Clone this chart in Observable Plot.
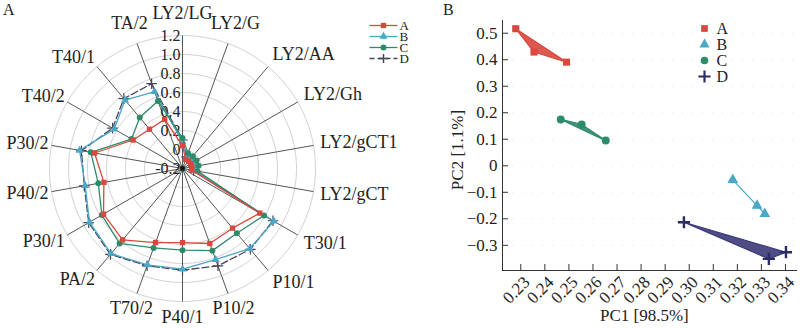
<!DOCTYPE html>
<html><head><meta charset="utf-8">
<script src="https://cdn.jsdelivr.net/npm/d3@7"></script>
<script src="https://cdn.jsdelivr.net/npm/@observablehq/plot@0.6"></script>
<style>
body{margin:0;background:#fff;}
#wrap{position:relative;width:800px;height:328px;overflow:hidden;font-family:"Liberation Serif","DejaVu Serif",serif;color:#222;}
#wrap svg{position:absolute;background:transparent;overflow:visible;}
#wrap svg text{font-family:"Liberation Serif","DejaVu Serif",serif;}
.t{position:absolute;white-space:nowrap;line-height:1;}
</style></head><body><div id="wrap"></div>
<script>
// ---------- data ----------
const axisNames = ["LY2/LG","LY2/G","LY2/AA","LY2/Gh","LY2/gCT1","LY2/gCT","T30/1","P10/1","P10/2","P40/1","T70/2","PA/2","P30/1","P40/2","P30/2","T40/2","T40/1","TA/2"];
const groups = ["A","B","C","D"];
const radarA = [0.04,-0.10,-0.10,-0.10,-0.10,-0.10,0.74,0.62,0.64,0.58,0.63,0.78,0.76,0.64,0.74,0.40,0.34,0.35];
const radarB = [0.08,-0.07,-0.07,-0.07,-0.08,-0.08,0.91,0.90,0.82,0.86,0.88,0.97,0.93,0.84,0.90,0.63,0.74,0.66];
const radarC = [0.12,-0.03,-0.03,-0.03,-0.03,-0.04,0.79,0.69,0.72,0.66,0.69,0.83,0.78,0.70,0.78,0.42,0.50,0.555];
const radarD = [0.10,-0.07,-0.07,-0.07,-0.08,-0.08,0.90,0.91,0.89,0.87,0.89,0.98,0.94,0.85,0.88,0.65,0.76,0.75];
const radarTicks = [-0.2,0,0.2,0.4,0.6,0.8,1.0,1.2];
const radarTickLabels = ["-0.2","0","0.2","0.4","0.6","0.8","1.0","1.2"];

const pc1A = [0.2279,0.2355,0.2490], pc2A = [0.517,0.429,0.391];
const pc1B = [0.3181,0.3282,0.3314], pc2B = [-0.053,-0.150,-0.181];
const pc1C = [0.2466,0.2553,0.2653], pc2C = [0.175,0.156,0.095];
const pc1D = [0.2978,0.3331,0.3402], pc2D = [-0.213,-0.351,-0.326];
const pcXTicks = [0.23,0.24,0.25,0.26,0.27,0.28,0.29,0.30,0.31,0.32,0.33,0.34];
const pcYTicks = [-0.3,-0.2,-0.1,0,0.1,0.2,0.3,0.4,0.5];

const colors = ["#d9473d","#4ba7c7","#2e8b68","#3b3a78"];
const radarLineColors = ["#d9473d","#4ba7c7","#2e8b68","#45455a"];
const FONT = "Liberation Serif";

const wrap = document.getElementById("wrap");
function place(el, left, top){ el.style.left = left+"px"; el.style.top = top+"px"; wrap.appendChild(el); }
function label(txt, left, top, size, extra){ const d=document.createElement("div"); d.className="t"; d.textContent=txt; d.style.fontSize=size+"px"; if(extra) Object.assign(d.style, extra); place(d,left,top); return d; }

// ---------- panel A: radar ----------
const R0 = -0.2, R1 = 1.2;
const rho = v => (v - R0) / (R1 - R0);
const ang = i => i * 2 * Math.PI / axisNames.length;
const radarVals = [radarA, radarB, radarC, radarD];
const rows = [];
groups.forEach((g, gi) => radarVals[gi].forEach((v, i) => rows.push({g, i, v})));
const rx = d => rho(d.v) * Math.sin(ang(d.i));
const ry = d => rho(d.v) * Math.cos(ang(d.i));
const ringRows = radarTicks.slice(1).flatMap(v => d3.range(0, 361, 2).map(a => ({v, a})));
const axRows = axisNames.map((name, i) => ({name, i, s: Math.sin(ang(i)), c: Math.cos(ang(i))}));
const U = 133; // px per unit radius
const midL = axRows.filter(d => Math.abs(d.s) < 0.5);
const rightL = axRows.filter(d => d.s >= 0.5);
const leftL = axRows.filter(d => d.s <= -0.5);
const sym = {A:"square", B:"triangle", C:"circle", D:"plus"};
const midR = d => (d.c > 0 ? 155 : 149) / U;

const radar = Plot.plot({
  width: 400, height: 328, margin: 0,
  x: {domain: [-1, 1], range: [182 - U, 182 + U], axis: null},
  y: {domain: [-1, 1], range: [168 + U, 168 - U], axis: null},
  style: {fontFamily: FONT, background: "transparent", color: "#222"},
  marks: [
    Plot.line(ringRows, {x: d => rho(d.v) * Math.sin(d.a * Math.PI / 180), y: d => rho(d.v) * Math.cos(d.a * Math.PI / 180), z: "v", stroke: "#d2d2d2", strokeWidth: 1}),
    Plot.link(axRows, {x1: 0, y1: 0, x2: "s", y2: "c", stroke: "#555", strokeWidth: 1}),
    Plot.text(midL, {x: d => d.s * midR(d), y: d => d.c * midR(d), text: "name", textAnchor: "middle", fontSize: 18, fontFamily: FONT}),
    Plot.text(rightL, {x: d => d.s * 140 / U, y: d => (d.c * 140 + d.c * 9) / U, text: "name", textAnchor: "start", fontSize: 18, fontFamily: FONT}),
    Plot.text(leftL, {x: d => d.s * 136 / U, y: d => (d.c * 136 + d.c * 9) / U, text: "name", textAnchor: "end", fontSize: 18, fontFamily: FONT}),
    Plot.text(radarTicks, {x: 0, y: d => rho(d), text: (d, i) => radarTickLabels[i], textAnchor: "end", dx: -2, fontSize: 16, fontFamily: FONT}),
    ...[3, 1, 2, 0].flatMap(gi => {
      const data = rows.filter(d => d.g === groups[gi]);
      const lineOpts = {x: rx, y: ry, curve: "linear-closed", stroke: radarLineColors[gi], strokeWidth: 1.3};
      if (gi === 3) lineOpts.strokeDasharray = "7,3";
      const dotOpts = {x: rx, y: ry, r: 3, symbol: sym[groups[gi]]};
      if (gi === 3) { dotOpts.stroke = radarLineColors[gi]; dotOpts.strokeWidth = 1.2; dotOpts.fill = "none"; dotOpts.r = 3.5; }
      else { dotOpts.fill = colors[gi]; dotOpts.stroke = "none"; }
      return [Plot.line(data, lineOpts), Plot.dot(data, dotOpts)];
    }),
    Plot.dot([R0], {x: 0, y: d => rho(d), r: 2.5, fill: "#111", symbol: "square"})
  ]
});
place(radar, 0, 0);

// legend A
const legA = Plot.plot({
  width: 56, height: 70, margin: 0,
  x: {domain: [0, 1], range: [4, 32], axis: null},
  y: {type: "point", domain: groups, range: [14, 58], axis: null},
  style: {fontFamily: FONT, background: "transparent", color: "#222"},
  marks: groups.flatMap((g, gi) => [
    Plot.link([g], {x1: 0, x2: 1, y1: d => d, y2: d => d, stroke: radarLineColors[gi], strokeWidth: 1.3, strokeDasharray: gi === 3 ? "5,3" : null}),
    Plot.dot([g], {x: 0.5, y: d => d, symbol: sym[g], r: 3, fill: gi === 3 ? "none" : colors[gi], stroke: gi === 3 ? radarLineColors[gi] : "none"}),
    Plot.text([g], {x: 1, y: d => d, text: d => d, textAnchor: "start", dx: 2, fontSize: 13, fontFamily: FONT})
  ])
});
place(legA, 365, 5);

// ---------- panel B: PCA ----------
const pcs = [[pc1A, pc2A], [pc1B, pc2B], [pc1C, pc2C], [pc1D, pc2D]];
const pts = [];
groups.forEach((g, gi) => pcs[gi][0].forEach((x, j) => pts.push({g, x, y: pcs[gi][1][j]})));
const X0 = 0.2224, X1 = 0.345, Y0 = -0.395, Y1 = 0.548;
const pxX = (X1 - X0) / (400 - 102 - 3), pxY = (Y1 - Y0) / (328 - 20 - 58);
const fmtY = d => d === 0 ? "0" : d3.format(".1f")(d);
const pca = Plot.plot({
  width: 400, height: 328, marginLeft: 102, marginRight: 3, marginTop: 20, marginBottom: 58,
  x: {domain: [X0, X1], axis: null}, y: {domain: [Y0, Y1], axis: null},
  style: {fontFamily: FONT, background: "transparent", color: "#222"},
  marks: [
    Plot.ruleY(pcYTicks, {stroke: "#e4e4e4", strokeDasharray: "1,9"}),
    ...groups.map((g, gi) => Plot.line(pts.filter(d => d.g === g), {x: "x", y: "y", curve: "linear-closed", fill: colors[gi], fillOpacity: 0.9, stroke: colors[gi], strokeWidth: 1.2})),
    ...groups.map((g, gi) => Plot.dot(pts.filter(d => d.g === g), gi === 3
      ? {x: "x", y: "y", symbol: "plus", r: 4, stroke: "#2c2b66", strokeWidth: 2.4}
      : {x: "x", y: "y", symbol: sym[g], r: 4, fill: colors[gi], stroke: "none"})),
    Plot.ruleX([X0], {stroke: "#333", strokeWidth: 1}),
    Plot.ruleY([Y0], {stroke: "#333", strokeWidth: 1}),
    Plot.ruleX(pcXTicks, {y1: Y0, y2: Y0 + 6 * pxY, stroke: "#333"}),
    Plot.ruleY(pcYTicks, {x1: X0, x2: X0 + 6 * pxX, stroke: "#333"}),
    Plot.text(pcYTicks, {x: X0, y: d => d, text: fmtY, textAnchor: "end", dx: -5, fontSize: 17, fontFamily: FONT}),
    Plot.text(pcXTicks, {x: d => d, y: Y0, text: d => d3.format(".2f")(d), textAnchor: "end", rotate: -45, dx: 6, dy: 9, fontSize: 17, fontFamily: FONT})
  ]
});
place(pca, 400, 0);

// legend B
const legB = Plot.plot({
  width: 60, height: 100, margin: 0,
  x: {domain: [0, 1], range: [14, 40], axis: null},
  y: {type: "point", domain: groups, range: [20, 84], axis: null},
  style: {fontFamily: FONT, background: "transparent", color: "#222"},
  marks: groups.flatMap((g, gi) => [
    Plot.dot([g], gi === 3 ? {x: 0, y: d => d, symbol: "plus", r: 4, stroke: "#2c2b66", strokeWidth: 2.2}
                           : {x: 0, y: d => d, symbol: sym[g], r: 3.8, fill: colors[gi]}),
    Plot.text([g], {x: 0, y: d => d, text: d => d, textAnchor: "start", dx: 12, fontSize: 16, fontFamily: FONT})
  ])
});
place(legB, 690, 0);

// titles and axis titles
label("A", 3, 2, 16);
label("B", 443, 2, 16);
label("PC1 [98.5%]", 600, 307, 17);
label("PC2 [1.1%]", 457, 150, 17, {transform: "translate(-50%,-50%) rotate(-90deg)", transformOrigin: "center"});
</script></body></html>
